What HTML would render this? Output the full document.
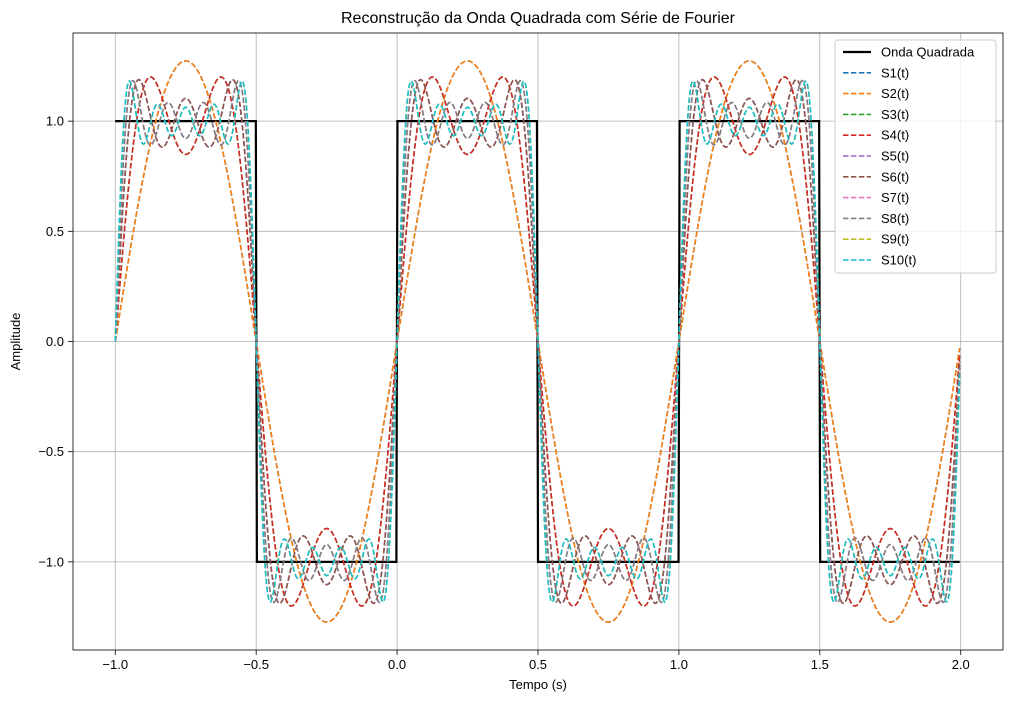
<!DOCTYPE html>
<html><head><meta charset="utf-8"><style>
body{margin:0;background:#fff;}
svg{display:block;font-family:"Liberation Sans","DejaVu Sans",sans-serif;}
</style></head><body>
<svg id="chart" width="1012" height="702"></svg>
<script>
// data
const seriesNames = ["S1(t)","S2(t)","S3(t)","S4(t)","S5(t)","S6(t)","S7(t)","S8(t)","S9(t)","S10(t)"];
const seriesHarmonics = [1,2,3,4,5,6,7,8,9,10];
const seriesColors = ["#1f77b4","#ff7f0e","#2ca02c","#d62728","#9467bd","#8c564b","#e377c2","#7f7f7f","#bcbd22","#17becf"];
const xTicks = [-1.0,-0.5,0.0,0.5,1.0,1.5,2.0];
const yTicks = [-1.0,-0.5,0.0,0.5,1.0];
const tStart = -1, tEnd = 2, nSamples = 800;
const period = 1;

const NS="http://www.w3.org/2000/svg";
const svg=document.getElementById('chart');
const L=73,R=1003,T=33,B=650;
const xmin=-1.15,xmax=2.15,ymin=-1.4,ymax=1.4;
const X=v=>L+(v-xmin)/(xmax-xmin)*(R-L);
const Y=v=>B-(v-ymin)/(ymax-ymin)*(B-T);
function el(tag,attrs,parent){const e=document.createElementNS(NS,tag);for(const k in attrs)e.setAttribute(k,attrs[k]);(parent||svg).appendChild(e);return e;}
const fmt=v=>(v<0?"\u2212":"")+Math.abs(v).toFixed(1);

// grid
xTicks.forEach(v=>{const g=el('line',{x1:X(v),x2:X(v),y1:T,y2:B,stroke:'#b0b0b0','stroke-width':0.8});


const t=el('line',{x1:X(v),x2:X(v),y1:B,y2:B+5,stroke:'#000','stroke-width':0.8});


const l=el('text',{x:X(v),y:B+19,'text-anchor':'middle','font-size':13});l.textContent=fmt(v);

});
yTicks.forEach(v=>{const g=el('line',{x1:L,x2:R,y1:Y(v),y2:Y(v),stroke:'#b0b0b0','stroke-width':0.8});


const t=el('line',{x1:L-5,x2:L,y1:Y(v),y2:Y(v),stroke:'#000','stroke-width':0.8});


const l=el('text',{x:L-9,y:Y(v)+4.5,'text-anchor':'end','font-size':13});l.textContent=fmt(v);

});

const clip=el('clipPath',{id:'cp'});el('rect',{x:L,y:T,width:R-L,height:B-T},clip);
const ts=[];for(let i=0;i<nSamples;i++)ts.push(tStart+(tEnd-tStart)*i/nSamples);
// square wave
const sq=ts.map(t=>{const ph=((t/period)%1+1)%1;return ph<0.5?1:-1;});
let d="";ts.forEach((t,i)=>{d+=(i?"L":"M")+X(t).toFixed(2)+","+Y(sq[i]).toFixed(2);});
const sqp=el('path',{d:d,fill:'none',stroke:'#000','stroke-width':2.2,'clip-path':'url(#cp)'});


seriesHarmonics.forEach((n,si)=>{
  let dd="";
  ts.forEach((t,i)=>{let s=0;for(let k=1;k<=n;k+=2)s+=Math.sin(2*Math.PI*k*t/period)/k;s*=4/Math.PI;
    dd+=(i?"L":"M")+X(t).toFixed(2)+","+Y(s).toFixed(2);});
  const p=el('path',{d:dd,fill:'none',stroke:seriesColors[si],'stroke-width':1.6,'stroke-dasharray':'5.5,2.4','clip-path':'url(#cp)'});
  
  
});
const frame=el('rect',{x:L,y:T,width:R-L,height:B-T,fill:'none',stroke:'#000','stroke-width':0.8});



const title=el('text',{x:(L+R)/2,y:23,'text-anchor':'middle','font-size':16});title.textContent="Reconstrução da Onda Quadrada com Série de Fourier";


const xl=el('text',{x:(L+R)/2,y:689,'text-anchor':'middle','font-size':13});xl.textContent="Tempo (s)";


const yl=el('text',{x:20,y:(T+B)/2,'text-anchor':'middle','font-size':13,transform:`rotate(-90 20 ${(T+B)/2})`});yl.textContent="Amplitude";



// legend
const lg=el('g',{});


el('rect',{x:835,y:40,width:161,height:233,rx:3,fill:'#fff','fill-opacity':0.8,stroke:'#ccc','stroke-width':1},lg);
const entries=[{n:"Onda Quadrada",c:"#000",dash:null,w:2.2}].concat(seriesNames.map((n,i)=>({n:n,c:seriesColors[i],dash:'5.5,2.4',w:1.6})));
entries.forEach((e,i)=>{const y=52+i*20.8;
  const g=el('g',{},lg);
  
  
  const a={x1:843,x2:871,y1:y,y2:y,stroke:e.c,'stroke-width':e.w};if(e.dash)a['stroke-dasharray']=e.dash;
  el('line',a,g);
  const t=el('text',{x:881,y:y+4.5,'font-size':13},g);t.textContent=e.n;});
</script>
</body></html>
